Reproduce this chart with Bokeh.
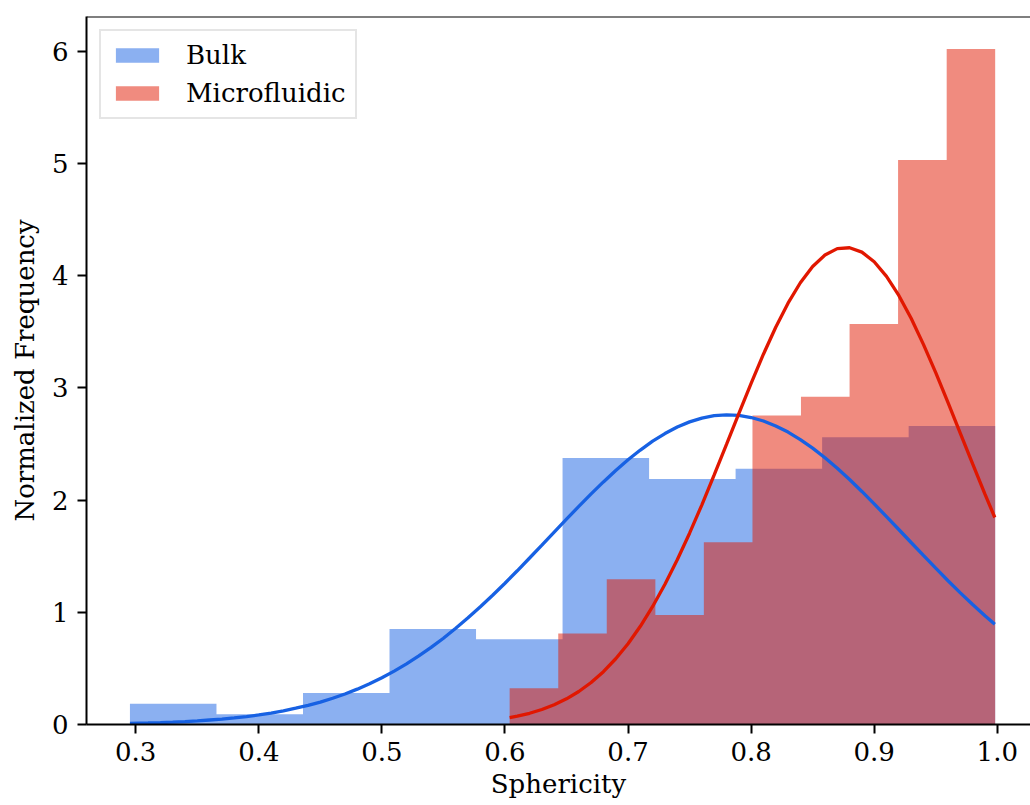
from bokeh.plotting import figure
from bokeh.models import Range1d, FixedTicker, Span, Legend, LegendItem, CustomJSTickFormatter
from bokeh.embed import file_html
from bokeh.resources import INLINE

# ---- data ----
bulk_edges = [0.2953, 0.3656, 0.4359, 0.5062, 0.5765, 0.6468, 0.7171, 0.7874, 0.8577, 0.9280, 0.9983]
bulk_density = [0.185, 0.092, 0.280, 0.851, 0.759, 2.375, 2.188, 2.280, 2.560, 2.660]

micro_edges = [0.6038, 0.6433, 0.6827, 0.7222, 0.7616, 0.8011, 0.8405, 0.8800, 0.9194, 0.9589, 0.9983]
micro_density = [0.324, 0.810, 1.295, 0.976, 1.625, 2.755, 2.920, 3.570, 5.030, 6.020]

bulk_fit_x = [0.2953, 0.31, 0.32, 0.33, 0.34, 0.35, 0.36, 0.37, 0.38, 0.39, 0.40, 0.41, 0.42, 0.43,
              0.44, 0.45, 0.46, 0.47, 0.48, 0.49, 0.50, 0.51, 0.52, 0.53, 0.54, 0.55, 0.56, 0.57,
              0.58, 0.59, 0.60, 0.61, 0.62, 0.63, 0.64, 0.65, 0.66, 0.67, 0.68, 0.69, 0.70, 0.71,
              0.72, 0.73, 0.74, 0.75, 0.76, 0.77, 0.78, 0.79, 0.80, 0.81, 0.82, 0.83, 0.84, 0.85,
              0.86, 0.87, 0.88, 0.89, 0.90, 0.91, 0.92, 0.93, 0.94, 0.95, 0.96, 0.97, 0.98, 0.99,
              0.998]
bulk_fit_y = [0.010, 0.014, 0.017, 0.021, 0.026, 0.032, 0.040, 0.048, 0.059, 0.071, 0.085, 0.102,
              0.122, 0.145, 0.170, 0.200, 0.234, 0.272, 0.315, 0.363, 0.417, 0.476, 0.540, 0.611,
              0.687, 0.769, 0.858, 0.951, 1.049, 1.152, 1.259, 1.370, 1.484, 1.599, 1.715, 1.830,
              1.944, 2.055, 2.162, 2.264, 2.359, 2.446, 2.525, 2.593, 2.651, 2.697, 2.731, 2.752,
              2.760, 2.755, 2.736, 2.705, 2.661, 2.606, 2.539, 2.463, 2.377, 2.283, 2.183, 2.077,
              1.966, 1.853, 1.738, 1.622, 1.507, 1.393, 1.281, 1.173, 1.069, 0.970, 0.894]

micro_fit_x = [0.6038, 0.61, 0.62, 0.63, 0.64, 0.65, 0.66, 0.67, 0.68, 0.69, 0.70, 0.71, 0.72,
               0.73, 0.74, 0.75, 0.76, 0.77, 0.78, 0.79, 0.80, 0.81, 0.82, 0.83, 0.84, 0.85, 0.86,
               0.87, 0.88, 0.89, 0.90, 0.91, 0.92, 0.93, 0.94, 0.95, 0.96, 0.97, 0.98, 0.99, 0.998]
micro_fit_y = [0.062, 0.075, 0.100, 0.134, 0.176, 0.229, 0.294, 0.374, 0.471, 0.586, 0.720, 0.875,
               1.052, 1.250, 1.468, 1.705, 1.958, 2.224, 2.497, 2.771, 3.041, 3.300, 3.540, 3.755,
               3.937, 4.082, 4.184, 4.241, 4.249, 4.210, 4.124, 3.994, 3.824, 3.620, 3.388, 3.136,
               2.869, 2.595, 2.322, 2.053, 1.845]

x_ticks = [0.3, 0.4, 0.5, 0.6, 0.7, 0.8, 0.9, 1.0]
y_ticks = [0, 1, 2, 3, 4, 5, 6]

blue = "#1761e3"
red = "#e11700"
FONT = "DejaVu Serif"
FS = "26px"

p = figure(width=1030, height=805, output_backend="svg", toolbar_location=None,
           x_range=Range1d(0.260, 1.027), y_range=Range1d(0, 6.31),
           min_border_left=86, min_border_right=0, min_border_top=16, min_border_bottom=81)
p.outline_line_color = None
p.xgrid.visible = False
p.ygrid.visible = False
p.background_fill_color = "white"

# histograms as single stepped areas (no seams between bins)
r_bulk = p.varea_step(x=bulk_edges, y1=[0] * len(bulk_edges), y2=bulk_density + bulk_density[-1:],
                      step_mode="after", fill_color=blue, fill_alpha=0.5)
r_micro = p.varea_step(x=micro_edges, y1=[0] * len(micro_edges), y2=micro_density + micro_density[-1:],
                       step_mode="after", fill_color=red, fill_alpha=0.5)
p.line(bulk_fit_x, bulk_fit_y, line_color=blue, line_width=3.3)
p.line(micro_fit_x, micro_fit_y, line_color=red, line_width=3.3)

p.add_layout(Span(location=6.31, dimension="width", line_color="black", line_width=2))

for ax in (p.xaxis[0], p.yaxis[0]):
    ax.axis_line_width = 2
    ax.axis_line_color = "black"
    ax.major_tick_line_width = 2
    ax.major_tick_out = 9
    ax.major_tick_in = 0
    ax.minor_tick_line_color = None
    ax.major_label_text_font = FONT
    ax.major_label_text_font_size = FS
    ax.major_label_text_color = "black"
    ax.axis_label_text_font = FONT
    ax.axis_label_text_font_size = FS
    ax.axis_label_text_font_style = "normal"
    ax.axis_label_text_color = "black"

p.xaxis.ticker = FixedTicker(ticks=x_ticks)
p.xaxis.formatter = CustomJSTickFormatter(code="return tick.toFixed(1);")
p.yaxis.ticker = FixedTicker(ticks=y_ticks)
p.xaxis.axis_label = "Sphericity"
p.yaxis.axis_label = "Normalized Frequency"
p.xaxis.major_label_standoff = 8
p.xaxis.axis_label_standoff = 5
p.yaxis.major_label_standoff = 9
p.yaxis.axis_label_standoff = 9

legend = Legend(items=[LegendItem(label="Bulk", renderers=[r_bulk]),
                       LegendItem(label="Microfluidic", renderers=[r_micro])],
                location="top_left")
legend.label_text_font = FONT
legend.label_text_font_size = FS
legend.label_text_color = "black"
legend.glyph_width = 54
legend.glyph_height = 18
legend.label_standoff = 22
legend.spacing = 8
legend.padding = 9
legend.margin = 13
legend.border_line_color = "#cccccc"
legend.border_line_width = 2
legend.background_fill_alpha = 0.8
p.add_layout(legend)

open("out.html", "w").write(file_html(p, INLINE))
